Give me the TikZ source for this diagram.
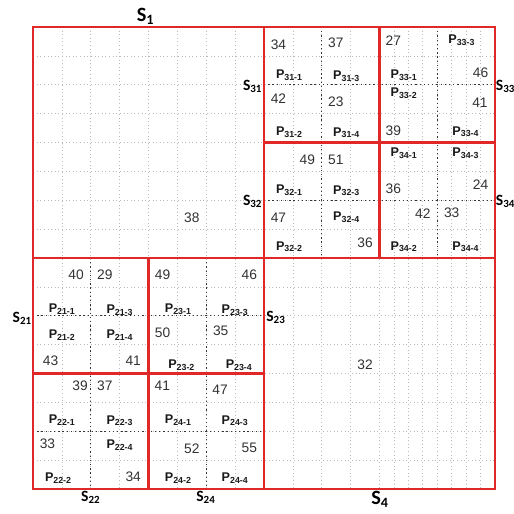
\documentclass[tikz,border=0pt]{standalone}
\usepackage{fontspec}
\setmainfont{Liberation Sans}
\newfontfamily\labfont{Carlito}
\usepackage{tikz}

\definecolor{blockred}{RGB}{224,40,40}
\definecolor{numgray}{RGB}{50,50,50}
\newcommand{\plab}[1]{P\textsubscript{#1}}
\newcommand{\slab}[1]{S\textsubscript{#1}}

\tikzset{
  fine/.style={gray!55, dotted, line width=0.5pt},
  half/.style={black!80, dotted, line width=0.9pt},
  border/.style={blockred, line width=1.4pt},
  num/.style={text=numgray, inner sep=0pt, font=\fontsize{9.5}{11}\selectfont},
  part/.style={text=black!90, inner sep=0pt, font=\bfseries\fontsize{8.7}{10}\selectfont},
  sub/.style={inner sep=0.4pt, font=\labfont\bfseries\fontsize{10.8}{13}\selectfont},
  quad/.style={inner sep=1pt, font=\labfont\bfseries\fontsize{14}{16}\selectfont}
}

\begin{document}
\begin{tikzpicture}[x=0.7cm, y=-0.7cm]
        \useasboundingbox (-1.143,-0.935) rectangle (16.658,16.866);

        % light grid
        \foreach \k in {1,...,15} {
            \draw[fine] (0,\k) -- (16,\k);
            \draw[fine] (\k,0) -- (\k,16);
        }
        \foreach \k in {12.5,13.5,14.5,15.5}
            \draw[fine] (\k,0) -- (\k,16);

        % middle lines of the small blocks
        \draw[half] (8,2) -- (16,2) (8,6) -- (16,6) (0,10) -- (8,10) (0,14) -- (8,14);
        \draw[half] (10,0) -- (10,8) (14,0) -- (14,8) (2,8) -- (2,16) (6,8) -- (6,16);

        % block borders
        \draw[border] (0,0) rectangle (16,16);
        \draw[border] (8,0) -- (8,16) (0,8) -- (16,8)
                      (12,0) -- (12,8) (8,4) -- (16,4)
                      (4,8) -- (4,16) (0,12) -- (8,12);

        % values
        \foreach \x/\y/\v [count=\i] in {
            8.5/0.6/34, 10.49/0.56/37, 8.5/2.47/42, 10.49/2.59/23,
            12.48/0.48/27, 15.5/1.6/46, 15.48/2.61/41, 12.48/3.6/39,
            9.5/4.61/49, 10.49/4.61/51, 8.5/6.59/47, 11.5/7.47/36,
            15.5/5.47/24, 12.48/5.59/36, 13.5/6.45/42, 14.5/6.45/33,
            5.5/6.59/38,
            1.49/8.59/40, 2.49/8.59/29, 0.61/11.57/43, 3.47/11.57/41,
            4.49/8.59/49, 7.49/8.59/46, 4.49/10.59/50, 6.5/10.53/35,
            1.63/12.43/39, 2.49/12.43/37, 0.5/14.44/33, 3.47/15.59/34,
            4.48/12.43/41, 6.48/12.57/47, 5.5/14.59/52, 7.49/14.59/55,
            11.5/11.71/32}
            \node[num] (n\i) at (\x,\y) {\v};

        % parts
        \foreach \x/\y/\p [count=\i] in {
            8.88/1.66/31-1, 10.86/1.70/31-3, 8.88/3.65/31-2, 10.86/3.66/31-4,
            14.85/0.45/33-3, 12.85/1.66/33-1, 12.85/2.30/33-2, 14.99/3.63/33-4,
            8.88/5.65/32-1, 10.86/5.67/32-3, 10.86/6.59/32-4, 8.88/7.61/32-2,
            12.85/4.37/34-1, 14.99/4.37/34-3, 12.85/7.61/34-2, 14.99/7.61/34-4,
            1.01/9.78/21-1, 3.01/9.80/21-3, 1.01/10.67/21-2, 3.01/10.67/21-4,
            5.03/9.78/23-1, 7.0/9.80/23-3, 5.15/11.71/23-2, 7.14/11.71/23-4,
            1.01/13.61/22-1, 3.01/13.63/22-3, 3.01/14.48/22-4, 0.88/15.63/22-2,
            5.03/13.61/24-1, 7.0/13.63/24-3, 5.03/15.63/24-2, 7.0/15.63/24-4}
            \node[part] (p\i) at (\x,\y) {\plab{\p}};

        % block names
        \node[quad] (s1) at (3.9,-0.36) {\slab{1}};
        \node[quad] (s4) at (12.02,16.36) {\slab{4}};
        \node[sub, anchor=east] (s31) at (7.97,2.05) {\slab{31}};
        \node[sub, anchor=east] (s32) at (7.97,6.05) {\slab{32}};
        \node[sub, anchor=west] (s33) at (16.0,2.05) {\slab{33}};
        \node[sub, anchor=west] (s34) at (16.0,6.05) {\slab{34}};
        \node[sub, anchor=east] (s21) at (-0.01,10.1) {\slab{21}};
        \node[sub, anchor=west] (s23) at (8.05,10.05) {\slab{23}};
        \node[sub] (s22) at (2.0,16.29) {\slab{22}};
        \node[sub] (s24) at (5.99,16.29) {\slab{24}};
\end{tikzpicture}
\end{document}
